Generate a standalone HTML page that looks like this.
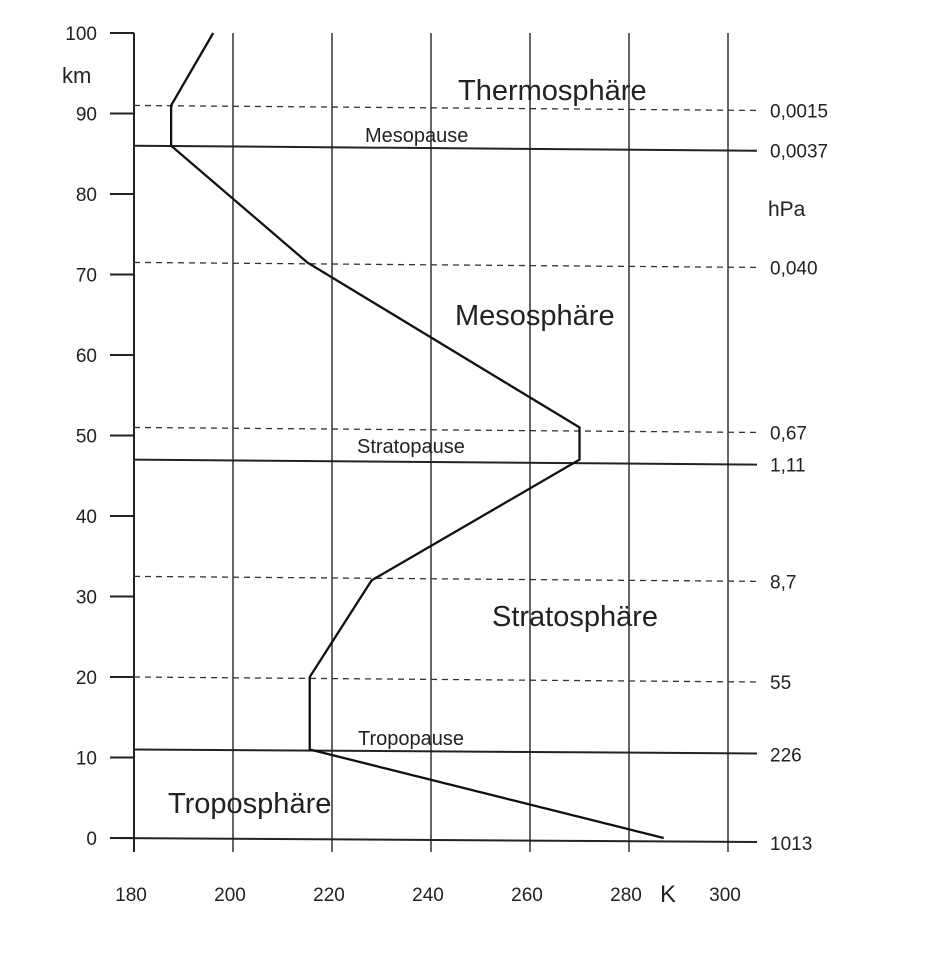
<!DOCTYPE html>
<html><head><meta charset="utf-8"><style>
body{margin:0;background:#fff;}
svg text{font-family:"Liberation Sans",sans-serif;fill:#222;}
</style></head><body>
<svg id="c" width="943" height="960" viewBox="0 0 943 960" xmlns="http://www.w3.org/2000/svg"></svg>
<script>
const kmTicks=[0,10,20,30,40,50,60,70,80,90,100];
const kTicks=[180,200,220,240,260,280,300];
const profileK=[287,215.5,215.5,228,270,270,215,187.5,187.5,196];
const profileKm=[0,11,20,32,47,51,71.5,86,91,100];
const solidKm=[0,11,47,86];
const dashedKm=[20,32.5,51,71.5,91];
const pressureKm=[0,11,20,32.5,47,51,71.5,86,91];
const pressureLabels=["1013","226","55","8,7","1,11","0,67","0,040","0,0037","0,0015"];
const svg=document.getElementById('c');const NS='http://www.w3.org/2000/svg';
const X=k=>134+(k-180)*4.95, Y=km=>838-8.05*km;
function el(t,a,p){const e=document.createElementNS(NS,t);for(const k in a)e.setAttribute(k,a[k]);(p||svg).appendChild(e);return e;}
function tx(s,x,y,size,anchor){const e=el('text',{x:x,y:y,'font-size':size,'text-anchor':anchor||'start'});e.textContent=s;return e;}
let a=el('line',{x1:134,y1:Y(100),x2:134,y2:852,stroke:'#222','stroke-width':2});


kmTicks.forEach(v=>{
 const t=el('line',{x1:110,y1:Y(v),x2:134,y2:Y(v),stroke:'#222','stroke-width':2});
 
 
 const l=tx(String(v),97,Y(v)+7,19,'end');
 
 
});
kTicks.slice(1).forEach(v=>{
 const g=el('line',{x1:X(v),y1:Y(100),x2:X(v),y2:852,stroke:'#333','stroke-width':1.5});
 
 
});
kTicks.forEach(v=>{
 const l=tx(String(v),X(v)-3,901,19,'middle');
 
 
});
solidKm.forEach(v=>{
 const s=el('line',{x1:v===0?110:134,y1:Y(v),x2:757,y2:Y(v)+(v===86||v===47?5:4),stroke:'#222','stroke-width':2});
 
 
});
dashedKm.forEach(v=>{
 const d=el('line',{x1:134,y1:Y(v),x2:757,y2:Y(v)+5,stroke:'#333','stroke-width':1.3,'stroke-dasharray':'6,5'});
 
 
});
pressureKm.forEach((v,i)=>{
 const l=tx(pressureLabels[i],770,Y(v)+12,19);
 
 
});
const p=el('polyline',{points:profileK.map((k,i)=>X(k)+','+Y(profileKm[i])).join(' '),fill:'none',stroke:'#111','stroke-width':2.3});


[["km",62,83,22],["hPa",768,216,21],["K",660,902,24],["Thermosphäre",458,100,29],["Mesosphäre",455,325,29],["Stratosphäre",492,626,29],["Troposphäre",168,813,29],["Mesopause",365,142,20],["Stratopause",357,453,20],["Tropopause",358,745,20]].forEach(d=>{
 const l=tx(d[0],d[1],d[2],d[3]);
 
 
});
</script>
</body></html>
